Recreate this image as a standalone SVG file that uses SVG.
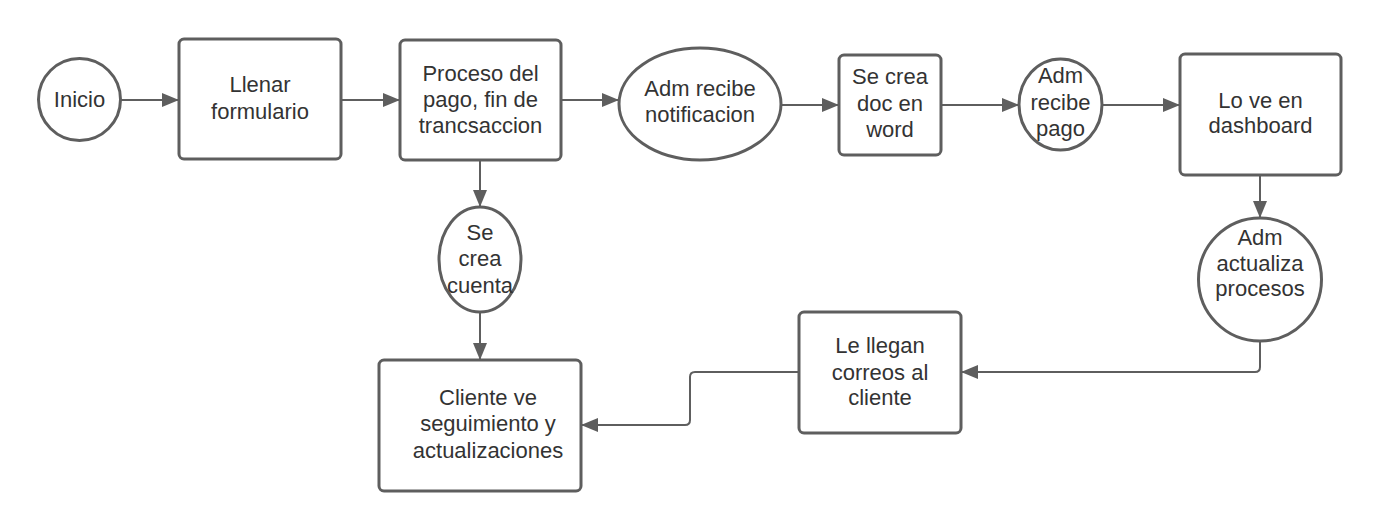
<svg xmlns="http://www.w3.org/2000/svg" width="1380" height="531" viewBox="0 0 1380 531">
<defs>
<marker id="arr" markerUnits="userSpaceOnUse" markerWidth="18" markerHeight="14" refX="17" refY="7" orient="auto">
<path d="M0,0 L17,7 L0,14 Z" fill="#5e5e5e"/>
</marker>
<style>
.shape{fill:#ffffff;stroke:#5e5e5e;stroke-width:3}
.conn{fill:none;stroke:#5e5e5e;stroke-width:2;marker-end:url(#arr)}
text{font-family:"Liberation Sans",Arial,sans-serif;font-size:22px;fill:#333333;text-anchor:middle}
</style>
</defs>
<rect width="1380" height="531" fill="#ffffff"/>
<g id="connectors">
<path class="conn" d="M121,100 L179,100"/>
<path class="conn" d="M341,100 L400,100"/>
<path class="conn" d="M561,100 L619,100"/>
<path class="conn" d="M781,105 L839,105"/>
<path class="conn" d="M941,105 L1019,105"/>
<path class="conn" d="M1102,105 L1180,105"/>
<path class="conn" d="M1260,175 L1260,218"/>
<path class="conn" d="M1260,341 L1260,367 Q1260,372 1255,372 L961,372"/>
<path class="conn" d="M799,372 L695,372 Q690,372 690,377 L690,420 Q690,425 685,425 L581,425"/>
<path class="conn" d="M480,160 L480,207"/>
<path class="conn" d="M480,312 L480,360"/>
</g>
<g id="inicio">
<circle class="shape" cx="79.5" cy="99.5" r="41"/>
<text x="79.5" y="107">Inicio</text>
</g>
<g id="llenar">
<rect class="shape" x="179" y="39" width="162" height="120" rx="5"/>
<text x="260" y="92">Llenar</text>
<text x="260" y="119">formulario</text>
</g>
<g id="proceso">
<rect class="shape" x="400" y="40" width="161" height="120" rx="5"/>
<text x="480.5" y="81">Proceso del</text>
<text x="480.5" y="107">pago, fin de</text>
<text x="480.5" y="133">trancsaccion</text>
</g>
<g id="adm-notif">
<ellipse class="shape" cx="700" cy="104" rx="81" ry="56"/>
<text x="700" y="96">Adm recibe</text>
<text x="700" y="122">notificacion</text>
</g>
<g id="doc-word">
<rect class="shape" x="839" y="55" width="102" height="100" rx="5"/>
<text x="890" y="84">Se crea</text>
<text x="890" y="111">doc en</text>
<text x="890" y="137">word</text>
</g>
<g id="adm-pago">
<ellipse class="shape" cx="1060.5" cy="104.5" rx="41.5" ry="45.5"/>
<text x="1060.5" y="83">Adm</text>
<text x="1060.5" y="110">recibe</text>
<text x="1060.5" y="136">pago</text>
</g>
<g id="dashboard">
<rect class="shape" x="1180" y="54" width="161" height="121" rx="5"/>
<text x="1260.5" y="108">Lo ve en</text>
<text x="1260.5" y="133">dashboard</text>
</g>
<g id="adm-actualiza">
<circle class="shape" cx="1260" cy="279.5" r="61.5"/>
<text x="1260" y="245">Adm</text>
<text x="1260" y="271">actualiza</text>
<text x="1260" y="296">procesos</text>
</g>
<g id="correos">
<rect class="shape" x="799" y="312" width="162" height="121" rx="5"/>
<text x="880" y="353">Le llegan</text>
<text x="880" y="380">correos al</text>
<text x="880" y="405">cliente</text>
</g>
<g id="se-crea-cuenta">
<ellipse class="shape" cx="480" cy="259.5" rx="41" ry="52.5"/>
<text x="480" y="240">Se</text>
<text x="480" y="266">crea</text>
<text x="480" y="293">cuenta</text>
</g>
<g id="cliente">
<rect class="shape" x="379" y="360" width="202" height="131" rx="5"/>
<text x="488" y="405">Cliente ve</text>
<text x="488" y="431">seguimiento y</text>
<text x="488" y="458">actualizaciones</text>
</g>
</svg>
